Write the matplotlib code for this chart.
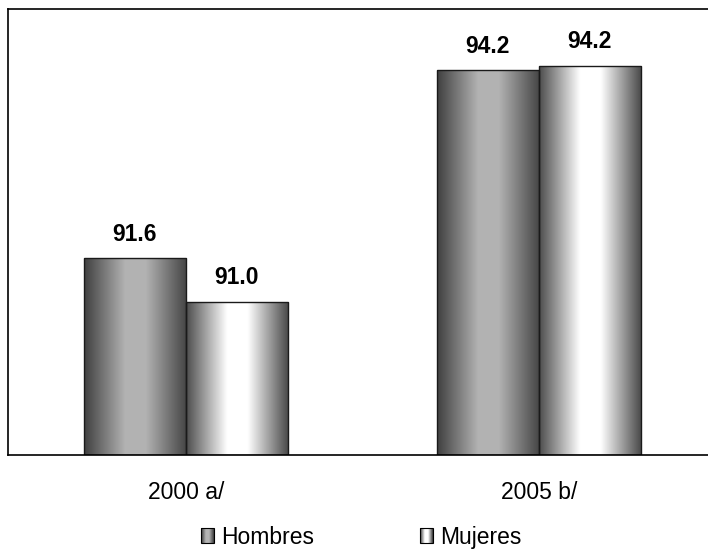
import numpy as np
import matplotlib.pyplot as plt
from matplotlib.patches import Rectangle
from matplotlib.legend_handler import HandlerBase

plt.rcParams['font.family'] = ['Liberation Sans', 'DejaVu Sans']

# data
categories = ['2000 a/', '2005 b/']
series = ['Hombres', 'Mujeres']
hombres = [91.6, 94.18]
mujeres = [91.0, 94.24]

ymin, ymax = 88.9, 95.02

# shading profiles across a bar (position 0..1 -> grey level)
shade_pos = [0.0, 0.4, 0.6, 1.0]
shade_h = [0.25, 0.70, 0.70, 0.27]
shade_m = [0.30, 1.00, 1.00, 0.28]


def shade_img(levels):
    xs = np.linspace(0, 1, 200)
    g = np.interp(xs, shade_pos, levels)
    return np.dstack([g, g, g])[0:1].repeat(2, axis=0)


def fill_bars(ax, bars, levels):
    img = shade_img(levels)
    for b in bars:
        x0, w, h = b.get_x(), b.get_width(), b.get_height()
        y0 = b.get_y()
        im = ax.imshow(img, extent=[x0, x0 + w, y0, y0 + h], aspect='auto',
                       interpolation='bilinear', zorder=1)
        im.set_clip_path(b)


class GradHandler(HandlerBase):
    def __init__(self, levels):
        super().__init__()
        self.levels = levels

    def create_artists(self, legend, orig_handle, xdescent, ydescent,
                       width, height, fontsize, trans):
        n = 12
        xs = np.linspace(0, 1, n)
        g = np.interp(xs, shade_pos, self.levels)
        arts = []
        for i in range(n):
            r = Rectangle((-xdescent + i * width / n, -ydescent), width / n, height,
                          facecolor=(g[i], g[i], g[i]), edgecolor='none', transform=trans)
            arts.append(r)
        arts.append(Rectangle((-xdescent, -ydescent), width, height, facecolor='none',
                              edgecolor='black', lw=0.8, transform=trans))
        return arts


fig = plt.figure(figsize=(7.08, 5.52), dpi=100)
ax = fig.add_axes([8 / 708, 97 / 552, 706 / 708, 446 / 552])

x = np.arange(len(categories))
w = 0.289
b1 = ax.bar(x - w / 2, np.array(hombres) - ymin, w, bottom=ymin, facecolor='none',
            edgecolor='#1a1a1a', lw=1.0, zorder=2)
b2 = ax.bar(x + w / 2, np.array(mujeres) - ymin, w, bottom=ymin, facecolor='none',
            edgecolor='#1a1a1a', lw=1.0, zorder=2)
fill_bars(ax, b1, shade_h)
fill_bars(ax, b2, shade_m)

for bars, vals in [(b1, hombres), (b2, mujeres)]:
    for b, v in zip(bars, vals):
        ax.annotate(f'{v:.1f}', (b.get_x() + b.get_width() / 2, v),
                    xytext=(0, 9), textcoords='offset points',
                    ha='center', va='bottom', fontsize=16.5, fontweight='bold')

ax.set_xlim(-0.504, 1.496)
ax.set_ylim(ymin, ymax)
ax.set_xticks(x)
ax.set_xticklabels(categories, fontsize=16.5)
ax.tick_params(axis='x', length=0, pad=19)
ax.set_yticks([])
for s in ['left', 'top', 'bottom', 'right']:
    ax.spines[s].set_linewidth(1.2)
    ax.spines[s].set_color('black')

h1 = Rectangle((0, 0), 1, 1)
h2 = Rectangle((0, 0), 1, 1)
fig.legend([h1, h2], series, loc='lower center', bbox_to_anchor=(0.51, 0.0),
           ncol=2, frameon=False, fontsize=16.5,
           handler_map={h1: GradHandler(shade_h), h2: GradHandler(shade_m)},
           handlelength=0.6, handleheight=0.6, handletextpad=0.3,
           columnspacing=4.6, borderpad=0.05, borderaxespad=0.1)

fig.savefig('out.png', dpi=100)
